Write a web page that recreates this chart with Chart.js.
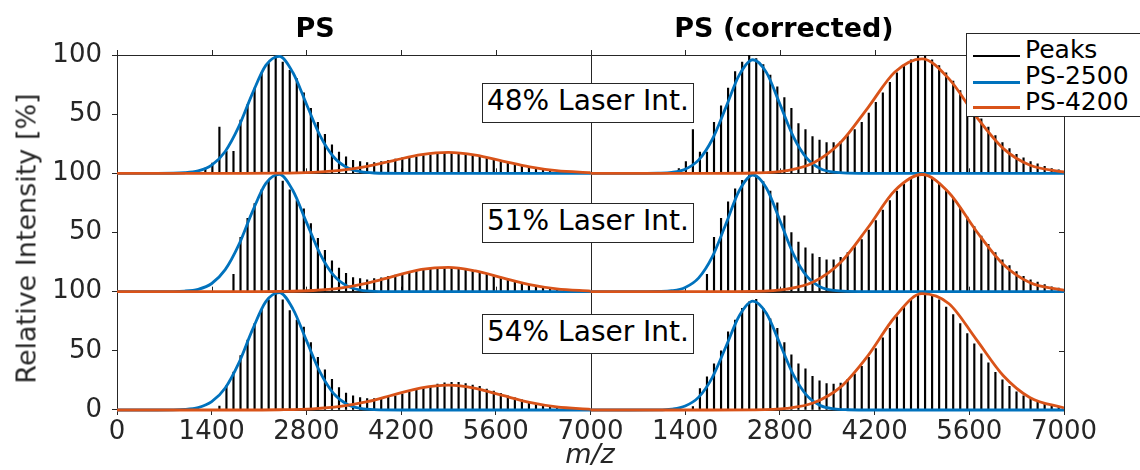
<!DOCTYPE html>
<html>
<head>
<meta charset="utf-8">
<script src="https://cdn.jsdelivr.net/npm/chart.js@4.4.1/dist/chart.umd.min.js"></script>
<style>
  body { margin: 0; background: #fff; overflow: hidden; }
  #wrap { position: relative; width: 1140px; height: 470px; overflow: hidden; font-family: "DejaVu Sans", sans-serif; color: #262626; }
  #wrap div { position: absolute; white-space: nowrap; }
  .title { top: 14px; width: 300px; font-size: 27px; line-height: 27px; font-weight: bold; color: #000; text-align: center; }
  .note { left: 482px; width: 212px; height: 40px; box-sizing: border-box; border: 1px solid #262626; background: #fff;
          font-size: 28px; line-height: 28px; color: #000; display: flex; align-items: center; justify-content: center; padding-bottom: 4px; }
  #legend { left: 966px; top: 33px; width: 200px; height: 84px; box-sizing: border-box; border: 1px solid #262626; background: #fff; }
  #legend .sw { left: 6px; width: 47px; }
  #legend .lt { left: 58px; font-size: 25px; line-height: 25px; color: #000; }
</style>
</head>
<body>
<div id="wrap">
  <canvas id="chart" width="1140" height="470"></canvas>
  <div class="title" style="left:165px">PS</div>
  <div class="title" style="left:634px">PS (corrected)</div>
  <div class="note" style="top:83px">48% Laser Int.</div>
  <div class="note" style="top:203px">51% Laser Int.</div>
  <div class="note" style="top:314px">54% Laser Int.</div>
  <div style="left:-174px; top:225px; width:400px; height:27px; font-size:27px; line-height:27px; text-align:center; transform:rotate(-90deg);">Relative Intensity [%]</div>
  <div style="left:490px; top:440px; width:200px; font-size:27px; line-height:27px; font-style:italic; text-align:center;">m/z</div>
  <div id="legend">
    <div class="sw" style="top:21px; height:1.5px; background:#000"></div>
    <div class="lt" style="top:3px">Peaks</div>
    <div class="sw" style="top:47px; height:3px; background:#0072BD"></div>
    <div class="lt" style="top:29px">PS-2500</div>
    <div class="sw" style="top:72px; height:3px; background:#D95319"></div>
    <div class="lt" style="top:55px">PS-4200</div>
  </div>
</div>
<script>
// m/z of the oligomer peaks (one every 104 Da)
const mzPeaks = [1306, 1410, 1514, 1618, 1722, 1826, 1930, 2034, 2138, 2242, 2346, 2450, 2554, 2658, 2762,
  2866, 2970, 3074, 3178, 3282, 3386, 3490, 3594, 3698, 3802, 3906, 4010, 4114, 4218, 4322, 4426, 4530,
  4634, 4738, 4842, 4946, 5050, 5154, 5258, 5362, 5466, 5570, 5674, 5778, 5882, 5986, 6090, 6194, 6298,
  6402, 6506, 6610, 6714, 6818, 6922];

// peak heights [%], left = PS, right = PS (corrected); rows 48 / 51 / 54 % laser
const peaksL1 = [4.5, 8.7, 39, 18.5, 18.5, 45, 58, 72, 85, 93, 99, 94, 87, 80, 68, 55, 43, 33, 24, 18, 14, 11,
  10, 9, 9, 10, 11, 12, 13, 13.5, 14, 15, 15.7, 16.3, 17, 17, 16.6, 16, 15, 14, 13, 11.5, 10.4, 9.3, 8.1, 7,
  5.6, 4.5, 3.7, 2.8, 2.2, 1.7, 1.4, 1.1, 0.8];
const peaksL2 = [0, 0, 0, 0, 14.7, 46, 62, 74.5, 86, 94, 98.6, 93.5, 86, 77, 70, 57.5, 45, 35, 26, 20, 15.6, 12,
  11, 10, 11, 11.6, 13, 14, 15, 16.4, 17.6, 18.7, 19.3, 20, 20, 20, 19.3, 18.4, 17.3, 16, 14.7, 13.3, 12, 10.5,
  9, 7.6, 6.2, 5, 4, 3.1, 2.3, 1.7, 1.1, 0.8, 0.6];
const peaksL3 = [0, 0, 3.4, 20.5, 32, 46, 59, 73, 85, 93, 98.6, 93, 84, 76, 70, 57, 44.6, 34, 26, 19, 14.4, 12,
  10.5, 9.7, 9.7, 10.2, 11, 12, 13.4, 15, 16.8, 18.5, 20, 22, 23, 23.3, 23.3, 22.4, 21, 20, 17.6, 16, 14, 12,
  10.2, 8.5, 7, 5.7, 4.5, 3.4, 2.6, 2, 1.4, 1.1, 0.8];
const peaksR1 = [4, 10, 37, 18, 18, 43, 57, 72, 86, 94, 100, 97, 92, 83, 73, 64, 55, 42, 37, 31, 28, 26, 26, 27,
  32, 37, 43, 51, 60, 68, 77, 85, 92, 96, 99, 99, 96, 91, 85, 78, 70, 62, 54, 46, 39, 32, 26, 21, 16, 13, 10,
  8, 6, 4, 3];
const peaksR2 = [0, 0, 0, 0, 14.7, 46, 62, 76, 87, 94, 99, 98, 93, 85, 75, 64, 50, 42, 37, 32, 29, 27, 27, 29, 33,
  38, 44, 52, 60, 69, 77, 85, 91, 96, 99, 99, 96, 92, 86, 79, 71, 63, 55, 47, 40, 33, 27, 22, 17, 13, 10, 8, 6,
  4, 3];
const peaksR3 = [0, 0, 2.8, 18, 28, 39, 50, 66, 76, 86, 91.5, 93.5, 86, 77, 69, 57, 46.6, 39, 34.7, 28.4, 24.7,
  22.4, 22, 22.7, 26, 30.4, 37, 44.6, 52, 61, 69, 78.7, 87, 93, 97, 98.6, 97.7, 93, 87, 80.7, 73, 64.5, 56,
  47.4, 39.8, 31.8, 25.6, 20, 15.3, 12, 9, 6.8, 5.4, 4, 2.8];

// fitted curves, read at these m/z
const blueMz = [0, 600, 1000, 1200, 1400, 1600, 1800, 2000, 2200, 2400, 2600, 2800, 3000, 3200, 3400, 3600, 3800, 4200, 7000];
const orangeMz = [0, 1800, 2400, 2900, 3300, 3700, 4100, 4500, 4900, 5300, 5700, 6100, 6500, 7000];

const blueL1 = [0, 0, 0.5, 2.0, 6.9, 18.5, 39.4, 67.2, 91.2, 98.8, 85.2, 58.6, 32.1, 14.0, 4.9, 1.4, 0.3, 0, 0];
const blueL2 = [0, 0, 0.5, 2.0, 6.9, 18.6, 39.5, 67.4, 91.5, 99.1, 85.5, 58.8, 32.2, 14.0, 4.9, 1.4, 0.3, 0, 0];
const blueL3 = [0, 0, 0.5, 2.0, 7.0, 18.6, 39.6, 67.5, 91.6, 99.2, 85.5, 58.8, 32.2, 14.1, 4.9, 1.4, 0.3, 0, 0];
const blueR1 = [0, 0, 0.2, 0.8, 3.5, 11.4, 28.6, 55.5, 83.2, 96.0, 85.3, 58.5, 30.9, 12.6, 3.9, 1.0, 0.2, 0, 0];
const blueR2 = [0, 0, 0.2, 0.8, 3.6, 11.7, 29.4, 57.0, 85.5, 98.6, 87.6, 60.1, 31.7, 12.9, 4.0, 1.0, 0.2, 0, 0];
const blueR3 = [0, 0, 0.1, 0.8, 3.4, 10.9, 27.4, 53.2, 79.7, 92.0, 81.7, 56.0, 29.6, 12.1, 3.7, 0.9, 0.2, 0, 0];

const orangeL1 = [0, 0, 0.1, 0.8, 2.5, 5.9, 11.0, 15.8, 17.7, 15.4, 10.4, 5.5, 2.2, 0.5];
const orangeL2 = [0, 0, 0.2, 1.0, 3.0, 7.2, 13.2, 18.8, 20.6, 17.5, 11.7, 6.0, 2.4, 0.5];
const orangeL3 = [0, 0, 0.2, 1.0, 3.0, 7.0, 13.0, 18.7, 21.0, 18.3, 12.3, 6.5, 2.6, 0.6];
const orangeR1 = [0, 0, 0.3, 2.3, 9.0, 26.2, 55.4, 85.7, 96.8, 79.8, 48.1, 21.1, 6.8, 1.1];
const orangeR2 = [0, 0, 0.2, 2.1, 8.4, 24.9, 54.0, 85.5, 99.0, 83.6, 51.5, 23.2, 7.6, 1.2];
const orangeR3 = [0, 0, 0.1, 1.4, 6.1, 19.5, 45.8, 78.6, 98.3, 89.8, 59.9, 29.2, 10.4, 1.8];

const mzMax = 7000;
const xStep = 1400;
const yStep = 50;

const BLUE = '#0072BD';
const ORANGE = '#D95319';
const AXIS = '#262626';

Chart.defaults.font.family = '"DejaVu Sans", sans-serif';
Chart.defaults.color = AXIS;

function pts(xs, ys) {
  return xs.map((x, i) => ({x: x, y: ys[i]}));
}

// xL puts 0..7000 in the left half, xR puts 0..7000 in the right half
const panels = [
  ['xL', 'y1', peaksL1, blueL1, orangeL1],
  ['xL', 'y2', peaksL2, blueL2, orangeL2],
  ['xL', 'y3', peaksL3, blueL3, orangeL3],
  ['xR', 'y1', peaksR1, blueR1, orangeR1],
  ['xR', 'y2', peaksR2, blueR2, orangeR2],
  ['xR', 'y3', peaksR3, blueR3, orangeR3],
];

const lineClip = {left: 0, right: 0, top: 4, bottom: 4};
const datasets = [];
panels.forEach(p => {
  datasets.push({
    type: 'line', label: 'PS-4200', data: pts(orangeMz, p[4]),
    xAxisID: p[0], yAxisID: p[1], borderColor: ORANGE, borderWidth: 2.8,
    pointRadius: 0, cubicInterpolationMode: 'monotone', clip: lineClip, order: 1
  });
  datasets.push({
    type: 'line', label: 'PS-2500', data: pts(blueMz, p[3]),
    xAxisID: p[0], yAxisID: p[1], borderColor: BLUE, borderWidth: 2.8,
    pointRadius: 0, cubicInterpolationMode: 'monotone', clip: lineClip, order: 2
  });
  datasets.push({
    type: 'bar', label: 'Peaks', data: pts(mzPeaks, p[2]),
    xAxisID: p[0], yAxisID: p[1], backgroundColor: '#000', borderWidth: 0,
    barThickness: 1.5, grouped: false, order: 3
  });
});

function yAxis(isBottom) {
  return {
    type: 'linear', position: 'left', stack: 'rows', stackWeight: 1, min: 0, max: 100,
    border: {display: true, color: AXIS},
    grid: {drawOnChartArea: false, tickLength: 5, color: AXIS},
    ticks: {
      stepSize: yStep, padding: 10, color: AXIS, font: {size: 26},
      callback: v => (v === 0 && !isBottom) ? '' : v
    },
    afterFit: s => { s.width = 117; }
  };
}

// box round every panel, with the tick marks on the top and right edges
const framePlugin = {
  id: 'frame',
  beforeDatasetsDraw(chart) {
    const ctx = chart.ctx;
    const xs = [chart.scales.xL, chart.scales.xR];
    const ys = [chart.scales.y1, chart.scales.y2, chart.scales.y3];
    const right = chart.chartArea.right;
    ctx.save();
    ctx.strokeStyle = AXIS;
    ctx.lineWidth = 1;
    ctx.beginPath();
    ys.forEach(sy => {
      xs.forEach(sx => {
        const x0 = Math.round(sx.getPixelForValue(0)) + 0.5;
        const x1 = Math.round(sx.getPixelForValue(mzMax)) + 0.5;
        ctx.rect(x0, Math.round(sy.top) + 0.5, x1 - x0, Math.round(sy.height));
        for (let v = 0; v <= mzMax; v += xStep) {
          const px = Math.round(sx.getPixelForValue(v)) + 0.5;
          ctx.moveTo(px, sy.top - 5);
          ctx.lineTo(px, sy.top);
        }
      });
      sy.ticks.forEach(t => {
        const py = Math.round(sy.getPixelForValue(t.value)) + 0.5;
        ctx.moveTo(right - 5, py);
        ctx.lineTo(right, py);
      });
    });
    ctx.stroke();
    ctx.restore();
  }
};

new Chart(document.getElementById('chart'), {
  data: {datasets: datasets},
  options: {
    responsive: false,
    animation: false,
    devicePixelRatio: 1,
    events: [],
    layout: {padding: {top: 55, right: 76, bottom: 0, left: 0}},
    plugins: {legend: {display: false}, tooltip: {enabled: false}},
    scales: {
      xL: {
        type: 'linear', position: 'bottom', min: 0, max: 2 * mzMax, offset: false,
        border: {display: true, color: AXIS},
        grid: {drawOnChartArea: false, offset: false, tickLength: 5, color: AXIS},
        ticks: {
          stepSize: xStep, autoSkip: false, maxRotation: 0, minRotation: 0, padding: 2,
          color: AXIS, font: {size: 26},
          callback: v => v > mzMax ? v - mzMax : v
        },
        afterFit: s => { s.height = 60; }
      },
      xR: {type: 'linear', position: 'bottom', min: -mzMax, max: mzMax, offset: false, display: false},
      y3: yAxis(true),
      y2: yAxis(false),
      y1: yAxis(false)
    }
  },
  plugins: [framePlugin]
});
</script>
</body>
</html>
